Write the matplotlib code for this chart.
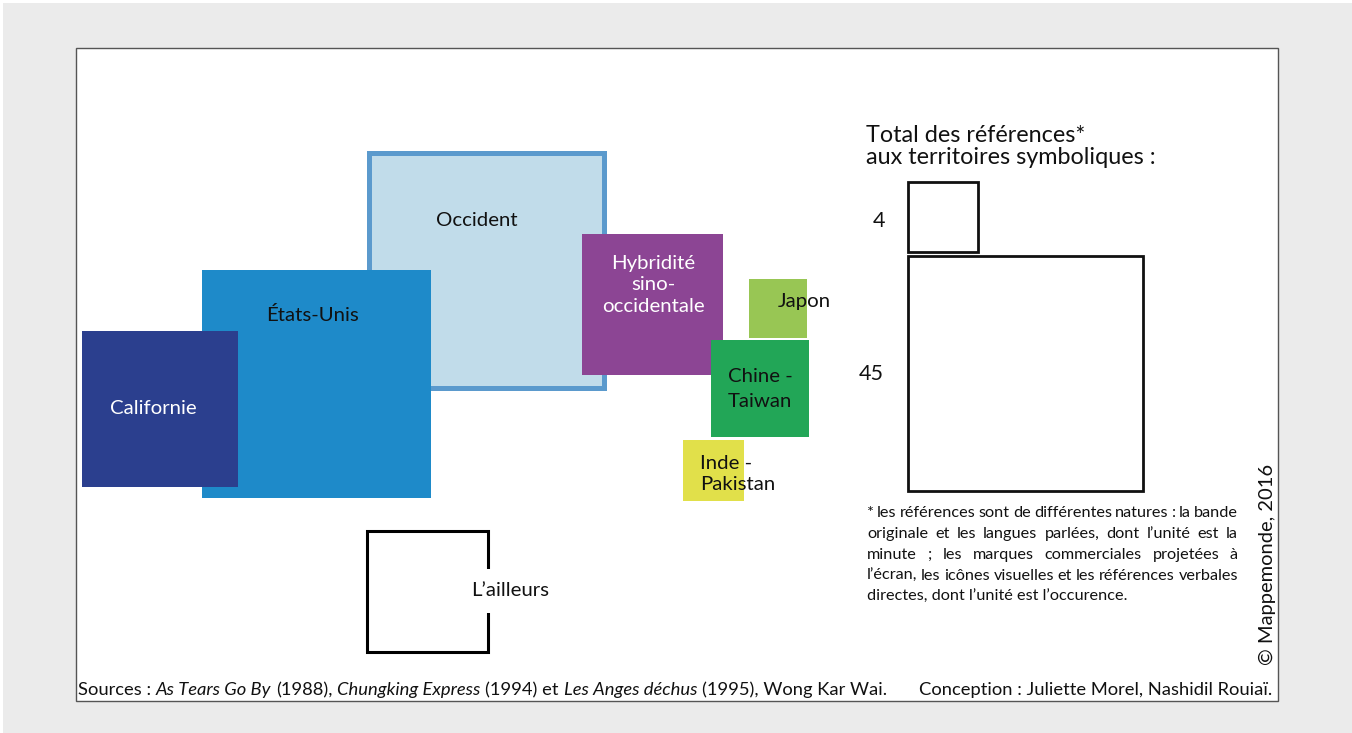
import matplotlib
matplotlib.use("Agg")
import matplotlib.pyplot as plt
from matplotlib.patches import Rectangle
import numpy as np

# --- data: total references per symbolic territory ---
territories = ["Occident", "États-Unis", "Californie", "Hybridité\nsino-\noccidentale",
               "Japon", "Chine -\nTaiwan", "Inde -\nPakistan", "L’ailleurs"]
references = [45, 42.5, 20, 16.2, 2.8, 7.7, 3, 12]
legend_values = [4, 45]

# layout (square centres, in pixels) and styles
centres = [(486.5, 270), (316.5, 384), (160, 409), (652.5, 304.5),
           (778, 308.5), (760, 388.5), (713.5, 470.5), (427.5, 591.5)]
fills = ["#c1dcea", "#1e8ac9", "#2b3f8e", "#8c4594", "#98c654", "#22a657", "#e1e04a", "white"]
edges = ["#5b9acd", "none", "none", "none", "none", "none", "none", "black"]
edge_w = [3.6, 0, 0, 0, 0, 0, 0, 2.2]
label_pos = [(477, 221, "center"), (313, 315, "center"), (153, 409, "center"), (653, 285, "center"),
             (778, 302, "left"), (760, 389, "center"), (700, 474, "left"), (510, 591, "center")]
label_col = ["#111", "#111", "white", "white", "#111", "#111", "#111", "#111"]
label_ls = [1.0, 1.0, 1.0, 1.3, 1.0, 1.6, 1.3, 1.0]

FONT = "Lato"
plt.rcParams["font.family"] = [FONT, "DejaVu Sans"]
K = 235 / np.sqrt(45)  # pixels per sqrt(reference)

fig = plt.figure(figsize=(13.52, 7.33), dpi=100, facecolor="white")
ax = fig.add_axes([0, 0, 1, 1])
ax.set_xlim(0, 1352)
ax.set_ylim(733, 0)
ax.axis("off")
renderer = fig.canvas.get_renderer()

# frame
ax.add_patch(Rectangle((3, 3), 1349, 730, facecolor="#ebebeb", edgecolor="none", zorder=0))
ax.add_patch(Rectangle((76, 48), 1202, 653, facecolor="white", edgecolor="#555555", lw=1, zorder=0.5))

# squares
for i, v in enumerate(references):
    s = K * np.sqrt(v)
    cx, cy = centres[i]
    ax.add_patch(Rectangle((cx - s / 2, cy - s / 2), s, s, facecolor=fills[i],
                           edgecolor=edges[i], lw=edge_w[i], joinstyle="miter", zorder=1 + i * 0.1))

for i, name in enumerate(territories):
    x, y, ha = label_pos[i]
    kw = {}
    if name.startswith("L’"):
        kw["bbox"] = dict(facecolor="white", edgecolor="none", pad=10)
    ax.text(x, y, name, ha=ha, va="center", multialignment=ha, fontsize=14.7,
            color=label_col[i], linespacing=label_ls[i], zorder=5, **kw)

# legend
ax.text(866, 146.5, "Total des références*\naux territoires symboliques :", fontsize=16.8,
        ha="left", va="center", linespacing=1.05, color="#111")
big = K * np.sqrt(legend_values[1])
small = K * np.sqrt(legend_values[0])
ax.add_patch(Rectangle((908, 256), big, big, facecolor="white", edgecolor="#111", lw=2, zorder=2))
ax.add_patch(Rectangle((908, 252 - small), small, small, facecolor="white", edgecolor="#111", lw=2, zorder=2))
ax.text(879, 221, str(legend_values[0]), fontsize=15.5, ha="center", va="center", color="#111")
ax.text(871, 374, str(legend_values[1]), fontsize=15.5, ha="center", va="center", color="#111")


def width_of(s, **kw):
    t = ax.text(0, 0, s, **kw)
    w = t.get_window_extent(renderer).width
    t.remove()
    return w


# footnote, justified
note = ["* les références sont de différentes natures : la bande",
        "originale et les langues parlées, dont l’unité est la",
        "minute ; les marques commerciales projetées à",
        "l’écran, les icônes visuelles et les références verbales",
        "directes, dont l’unité est l’occurence."]
NFS = 11.7
nx0, nx1 = 867, 1238
for i, line in enumerate(note):
    yb = 517 + i * 21
    if i == len(note) - 1:
        ax.text(nx0, yb, line, fontsize=NFS, va="baseline", color="#111")
        continue
    words = line.split(" ")
    ws = [width_of(w, fontsize=NFS) for w in words]
    gap = (nx1 - nx0 - sum(ws)) / (len(words) - 1)
    x = nx0
    for w, wd in zip(words, ws):
        ax.text(x, yb, w, fontsize=NFS, va="baseline", color="#111")
        x += wd + gap

# sources line with italic titles
pieces = [("Sources :", "normal"), ("As Tears Go By", "italic"), ("(1988),", "normal"),
          ("Chungking Express", "italic"), ("(1994) et", "normal"), ("Les Anges déchus", "italic"),
          ("(1995), Wong Kar Wai.", "normal")]
SFS = 13.2
sp = width_of("a a", fontsize=SFS) - 2 * width_of("a", fontsize=SFS)
x = 78
for txt, st in pieces:
    ax.text(x, 695, txt, fontsize=SFS, style=st, va="baseline", color="#111")
    x += width_of(txt, fontsize=SFS, style=st) + sp

ax.text(1272, 695, "Conception : Juliette Morel, Nashidil Rouiaï.", fontsize=13.2, ha="right",
        va="baseline", color="#111")
ax.text(1267, 564, "© Mappemonde, 2016", fontsize=14.5, rotation=90, ha="center", va="center", color="#111")

fig.savefig("out.png", dpi=100, facecolor="white")
